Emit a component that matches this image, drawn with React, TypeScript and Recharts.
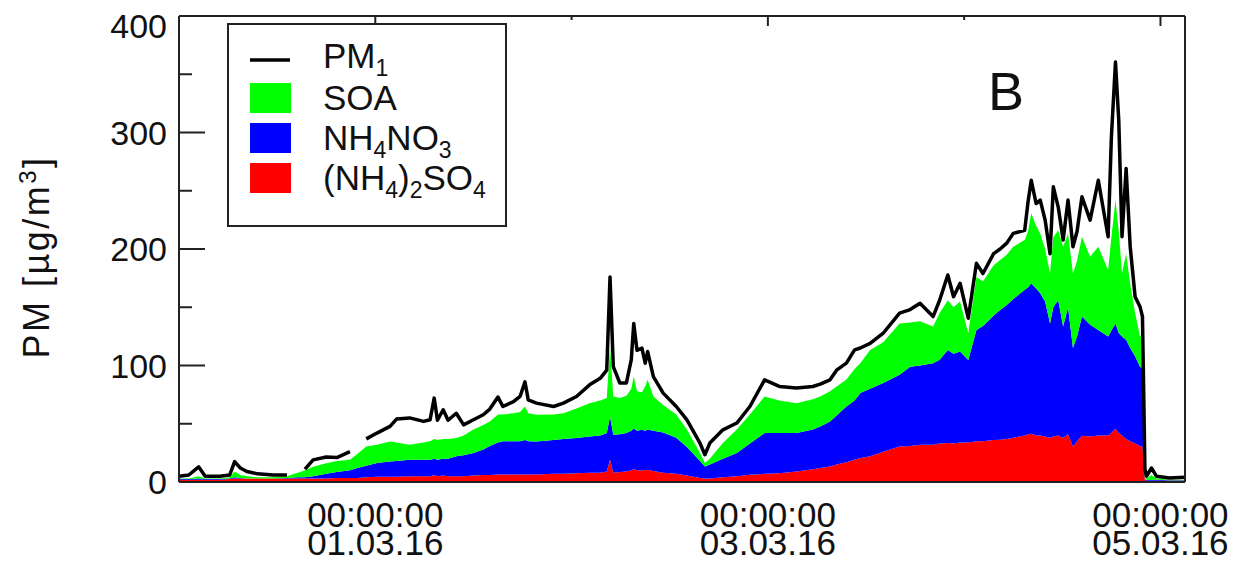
import React from 'react';
import { ComposedChart, Area, Line, XAxis, YAxis } from 'recharts';

// hours since 29.02.16 00:00
const hours = [0,1.2,2.4,3.2,5,6.2,6.8,7.5,8.3,9.6,
  11.5,13.2,14.5,15.4,16.4,18,19.3,20.9,21.8,22.9,
  24.2,25.8,26.6,28.2,29.9,30.7,31.2,31.6,32.3,32.9,
  33.9,34.8,36,37.2,38,39,39.6,40.9,41.7,42.3,
  42.7,43.7,45.8,47,48.6,50.2,51.5,52.3,52.7,53.1,
  53.9,54.7,55.3,55.6,56,56.6,57,57.3,58,59.2,
  60.8,62.1,63.7,64.3,64.9,66.5,68.2,69.8,71.6,73.4,
  75.5,77.5,78.4,79.6,80.4,81.6,82.6,83.3,84.5,86.1,
  88.1,89.4,90.6,92.2,93,94,94.7,95.5,96.5,97.5,
  98.3,99.6,100.4,101.2,102,103.4,103.8,104.2,104.8,105.3,
  105.9,106.5,106.9,107.5,108.1,108.7,109.3,109.8,110.4,111.4,
  112.4,113.6,114,114.5,114.9,115.3,115.8,116.3,116.9,117.5,
  117.8,118.1,118.3,118.9,119.5,121.1,123];

const pm1 = [5,6,13,5,5,6,17.5,12,9,7,
  6,6,null,11,19,21.5,21,26,null,37,
  42,47.7,54,55,52,53.4,72,53,62,53,
  59,49,53.4,57.7,62.6,72.9,64.8,69,73.4,86,
  70.5,67.7,64.8,67.7,73.4,83.4,89,96,176,99,
  85,85,105,136,113,115,102,112,90.5,76.3,
  64.8,53.4,33.4,23.4,33.4,44.8,50.6,64.8,87.7,82,
  80.6,82,84,87.7,96,102,113.4,115,119,127.7,
  145,148,153.4,142,156,177.7,159,170.6,140.6,187.7,
  179,196,200,205,213.4,216,240,259,239,242,
  224.8,196,253.4,236,207.7,242,202,215,244.8,224.8,
  259,210.5,296,360.5,310.5,210.5,269,202,159,150.5,
  142,10.5,5,12,5,3.4,4];

const nh42so4 = [2,2,2,2,2,2.5,3,3,3,3,
  3,3,3,3,3,3,3.5,3.5,3.5,4,
  4.5,4.5,4.5,5,5,5,6,5,5.5,5,
  5,5,5.5,6,6,6.5,6.5,6.5,6.5,6.5,
  6.5,6.5,7,7,7.5,8,8,9,19,8,
  8.5,9,10,11,10,10,10,10.5,9.5,8,
  7,5.5,3.5,3,3,4,5,6.3,7,7.5,
  9,11,12,13.4,15,17,19,20.6,22,26,
  30.5,31,32,32,33,33.4,33,34,34,35,
  35,36,36.3,37,38,40,41,41.5,40,40,
  39,38,39,40,38,41,30.5,35,39.7,39,
  40,40,42,46,42,40,37,35,33,31,
  30.5,1,1,1,1,1,1];

const nh4no3 = [0.5,0.5,1,0.5,0.5,0.5,1,0.5,0,0,
  0,0.5,1,1,2,4,5,6.5,8.5,10,
  11.8,13,13.5,14,14,14,14,14,14.5,15,
  17,18,19.5,22,25,27.5,28.5,28.5,28.5,29.5,
  28.5,28.3,29,30,30.2,31,32,33,37,32.5,
  32.5,33,34,35,34,34.8,34,34.5,34.5,34.5,
  31,24.5,14.5,10.4,12,16,20,26.7,35,34.5,
  33,34,35.7,38.6,42,47.8,51,55.7,58,59,
  61.5,68,68,70,72,80,77,78,70.8,95.5,
  99,107,111.4,115,119,125,126,129.1,126,122,
  116,98,111,116,95.4,109,84.5,90,102.3,96,
  90.5,84.8,88,90,86,85,85,80,75,68,
  66.5,1,1,1,1,0.5,0.5];

const soa = [0.5,0.5,2,0.5,0.5,1,5,2.5,2,1,
  1,1.5,4,6,8,9,9.5,9,12,16.5,
  15.7,17.3,16,13,15,16,17,17,17,17,
  15.7,17,20,21,21,24,23,24,25,28.8,
  24,22.9,22,22,25.3,28.7,30,30,60,32.9,
  31,32,36,44.5,34,32.2,38,42.7,29.4,23.5,
  20,15,7,2.9,5,13.4,20,25,31.4,28,
  25.7,26,25.7,26,25,23.2,27,25.7,33.4,35,
  44,38,38,31.4,40,42.6,40,43,22.9,45.5,
  38,43,42.8,43,45,42.7,48,60,54,51.4,
  45,43,60,60,68.6,63.4,64,65,68.5,58.4,
  71.5,57.2,80,106,87,54,74,55,37,26,
  31,2,1,4,1,0.5,0.5];

const xTickHours = [24, 72, 120];
const xTickTimes = ['00:00:00', '00:00:00', '00:00:00'];
const xTickDates = ['01.03.16', '03.03.16', '05.03.16'];
const xTopTicks = [24, 48, 72, 96, 120];
const yTicks = [0, 50, 100, 150, 200, 250, 300, 350, 400];

const data = hours.map((h, i) => ({
  h,
  pm1: pm1[i],
  soa: soa[i],
  nh4no3: nh4no3[i],
  nh42so4: nh42so4[i],
}));

const FONT = '"Liberation Sans", Arial, Helvetica, sans-serif';
const AX = '#222';
const TXT = '#111';

const BottomTick = (props: any) => {
  const { x, y, payload } = props;
  const i = xTickHours.indexOf(payload.value);
  return (
    <g>
      <text x={x} y={y + 45} textAnchor="middle" fontFamily={FONT} fontSize={35} fill={TXT}>
        {xTickTimes[i]}
      </text>
      <text x={x} y={y + 73} textAnchor="middle" fontFamily={FONT} fontSize={35} fill={TXT}>
        {xTickDates[i]}
      </text>
    </g>
  );
};

const TopTick = (props: any) => {
  const { x, y, payload } = props;
  const major = xTickHours.includes(payload.value);
  return <line x1={x} x2={x} y1={y} y2={y + (major ? 10 : 4)} stroke={AX} strokeWidth={2} />;
};

const LeftTick = (props: any) => {
  const { x, y, payload } = props;
  const major = payload.value % 100 === 0;
  const baseline = Math.max(y + 12, 38);
  return (
    <g>
      <line x1={x} x2={x + (major ? 26 : 13)} y1={y} y2={y} stroke={AX} strokeWidth={2} />
      {major && (
        <text x={x - 12} y={baseline} textAnchor="end" fontFamily={FONT} fontSize={34} fill={TXT}>
          {payload.value}
        </text>
      )}
    </g>
  );
};

const RightTick = (props: any) => {
  const { x, y, payload } = props;
  const major = payload.value % 100 === 0;
  return <line x1={x} x2={x - (major ? 26 : 13)} y1={y} y2={y} stroke={AX} strokeWidth={2} />;
};

export default function App() {
  return (
    <div style={{ position: 'absolute', left: 0, top: 0, width: 1236, height: 563, background: '#fff' }}>
      <ComposedChart
        width={1236}
        height={563}
        data={data}
        margin={{ top: 6, right: 11, bottom: 21, left: 79 }}
      >
        <XAxis
          dataKey="h"
          type="number"
          domain={[0, 123]}
          ticks={xTickHours}
          interval={0}
          tick={BottomTick}
          tickLine={false}
          tickSize={0}
          tickMargin={0}
          axisLine={{ stroke: AX, strokeWidth: 2 }}
          height={60}
          allowDataOverflow
        />
        <XAxis
          xAxisId="top"
          orientation="top"
          dataKey="h"
          type="number"
          domain={[0, 123]}
          ticks={xTopTicks}
          interval={0}
          tick={TopTick}
          tickLine={false}
          tickSize={0}
          tickMargin={0}
          axisLine={{ stroke: AX, strokeWidth: 2 }}
          height={10}
          allowDataOverflow
        />
        <YAxis
          type="number"
          domain={[0, 400]}
          ticks={yTicks}
          interval={0}
          tick={LeftTick}
          tickLine={false}
          tickSize={0}
          tickMargin={0}
          axisLine={{ stroke: AX, strokeWidth: 2 }}
          width={100}
          allowDataOverflow
        />
        <YAxis
          yAxisId="right"
          orientation="right"
          type="number"
          domain={[0, 400]}
          ticks={yTicks}
          interval={0}
          tick={RightTick}
          tickLine={false}
          tickSize={0}
          tickMargin={0}
          axisLine={{ stroke: AX, strokeWidth: 2 }}
          width={40}
        />
        <Area type="linear" dataKey="nh42so4" stackId="s" stroke="none" fill="#ff0000" fillOpacity={1} isAnimationActive={false} activeDot={false} />
        <Area type="linear" dataKey="nh4no3" stackId="s" stroke="none" fill="#0000ff" fillOpacity={1} isAnimationActive={false} activeDot={false} />
        <Area type="linear" dataKey="soa" stackId="s" stroke="none" fill="#00ff00" fillOpacity={1} isAnimationActive={false} activeDot={false} />
        <Line type="linear" dataKey="pm1" stroke="#000" strokeWidth={3.5} strokeLinejoin="round" dot={false} activeDot={false} connectNulls={false} isAnimationActive={false} />
      </ComposedChart>
      <svg
        width={1236}
        height={563}
        style={{ position: 'absolute', left: 0, top: 0, pointerEvents: 'none' }}
        fontFamily={FONT}
      >
        <text transform="rotate(-90, 49, 257)" x={49} y={257} textAnchor="middle" fontSize={36} letterSpacing={2.5} fill={TXT}>
          PM [µg/m<tspan dy={-13} fontSize={24}>3</tspan><tspan dy={13}>]</tspan>
        </text>
        <text x={988} y={110} fontSize={54} fill={TXT}>B</text>
        <g>
          <rect x={228} y={24} width={278} height={202} fill="#fff" stroke={AX} strokeWidth={2} />
          <line x1={250} x2={290} y1={60} y2={60} stroke="#000" strokeWidth={3.5} />
          <text x={323} y={68} fontSize={35} fill={TXT}>
            PM<tspan dy={8} fontSize={23}>1</tspan>
          </text>
          <rect x={250} y={83} width={41} height={30} fill="#00ff00" />
          <text x={323} y={110} fontSize={35} fill={TXT}>SOA</text>
          <rect x={250} y={123} width={41} height={30} fill="#0000ff" />
          <text x={323} y={150} fontSize={35} fill={TXT}>
            NH<tspan dy={8} fontSize={23}>4</tspan><tspan dy={-8}>NO</tspan><tspan dy={8} fontSize={23}>3</tspan>
          </text>
          <rect x={250} y={163} width={41} height={30} fill="#ff0000" />
          <text x={323} y={190} fontSize={35} fill={TXT}>
            (NH<tspan dy={8} fontSize={23}>4</tspan><tspan dy={-8}>)</tspan><tspan dy={8} fontSize={23}>2</tspan><tspan dy={-8}>SO</tspan><tspan dy={8} fontSize={23}>4</tspan>
          </text>
        </g>
      </svg>
    </div>
  );
}
